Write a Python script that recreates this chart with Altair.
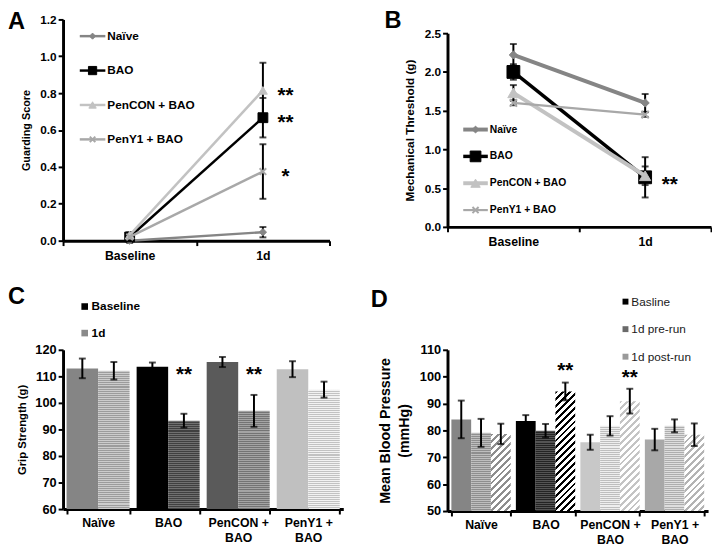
import altair as alt
import pandas as pd

FONT = "Liberation Sans"

# ---------------- data ----------------
groups = ["Naïve", "BAO", "PenCON + BAO", "PenY1 + BAO"]
timepoints = ["Baseline", "1d"]

# Panel A: guarding score (mean, sem) at Baseline, 1d
guard_naive = [0.00, 0.046]
guard_naive_err = [0.012, 0.028]
guard_bao = [0.02, 0.667]
guard_bao_err = [0.015, 0.107]
guard_pencon = [0.03, 0.815]
guard_pencon_err = [0.015, 0.150]
guard_peny1 = [0.02, 0.375]
guard_peny1_err = [0.012, 0.148]
guard_star_y = [0.815, 0.667, 0.375]
guard_star_txt = ["**", "**", "*"]

# Panel B: mechanical threshold
mech_naive = [2.22, 1.60]
mech_naive_err = [0.14, 0.115]
mech_bao = [2.00, 0.64]
mech_bao_err = [0.10, 0.26]
mech_pencon = [1.73, 0.66]
mech_pencon_err = [0.10, 0.12]
mech_peny1 = [1.60, 1.45]
mech_peny1_err = [0.03, 0.03]
mech_star_y = [0.62]
mech_star_txt = ["**"]

# Panel C: grip strength
grip_series = ["Baseline", "1d"]
grip_base = [113.0, 113.6, 115.4, 112.7]
grip_base_err = [3.7, 1.6, 1.9, 3.0]
grip_1d = [112.1, 93.3, 97.0, 105.0]
grip_1d_err = [3.3, 2.6, 6.0, 3.0]
grip_star_groups = ["BAO", "PenCON + BAO"]
grip_star_y = [112.7, 112.7]

# Panel D: mean blood pressure
bp_series = ["Basline", "1d pre-run", "1d post-run"]
bp_base = [84.1, 83.5, 75.6, 76.6]
bp_base_err = [7.0, 2.2, 2.8, 4.0]
bp_pre = [79.1, 79.9, 81.7, 81.7]
bp_pre_err = [5.2, 2.5, 3.6, 2.4]
bp_post = [78.7, 94.5, 90.9, 78.4]
bp_post_err = [3.8, 3.3, 4.6, 4.2]
bp_star_groups = ["BAO", "PenCON + BAO"]
bp_star_y = [104.3, 101.8]

# ---------------- styles ----------------
AX = dict(domainColor="black", domainWidth=3, tickColor="black", tickWidth=2,
          tickSize=5, labelFont=FONT, labelFontWeight="bold", labelColor="black",
          titleFont=FONT, titleFontWeight="bold", titleColor="black", grid=False)

line_names = groups
line_colors = ["#858585", "#000000", "#c2c2c2", "#a8a8a8"]
CROSS = "M-1,-1L1,1M-1,1L1,-1"
line_shapes = ["diamond", "square", "triangle-up", CROSS]


def text_layer(txt, x, y, size, weight="bold", align="left", baseline="middle", color="black"):
    return alt.Chart(pd.DataFrame({"t": [txt]})).mark_text(
        align=align, baseline=baseline, fontSize=size, fontWeight=weight,
        font=FONT, color=color).encode(x=alt.value(x), y=alt.value(y), text="t:N")


def line_panel(letter, means, errs, ydom, yvals, ytitle, ytitle_size, W, H,
               widths, msizes, leg_x, leg_y0, leg_step, leg_font, leg_w,
               star_y, star_txt, star_dx, letter_xy):
    xenc = alt.X("time:N", scale=alt.Scale(type="band", domain=timepoints,
                                           paddingInner=0, paddingOuter=0),
                 bandPosition=0.5,
                 axis=alt.Axis(title=None, labelAngle=0, tickBand="extent",
                               labelFontSize=12.5, labelPadding=4, **AX))
    yaxis = alt.Axis(values=yvals, format=".1f", title=ytitle,
                     titleFontSize=ytitle_size, labelFontSize=12, titlePadding=8, **AX)

    def yenc(f):
        return alt.Y(f + ":Q", scale=alt.Scale(domain=ydom, nice=False, zero=False), axis=yaxis)

    layers = []
    rows = []
    for name, m, e in zip(line_names, means, errs):
        for t, mv, ev in zip(timepoints, m, e):
            rows.append({"name": name, "time": t, "value": mv, "lo": mv - ev, "hi": mv + ev})
    df = pd.DataFrame(rows)
    layers.append(alt.Chart(df).mark_rule(color="black", strokeWidth=2).encode(
        x=xenc, y=yenc("lo"), y2="hi:Q"))
    for f in ["lo", "hi"]:
        layers.append(alt.Chart(df).mark_tick(color="black", size=7, thickness=2).encode(
            x=xenc, y=yenc(f)))
    for i, name in enumerate(line_names):
        d = df[df["name"] == name]
        layers.append(alt.Chart(d).mark_line(color=line_colors[i], strokeWidth=widths[i]).encode(
            x=xenc, y=yenc("value")))
        layers.append(alt.Chart(d).mark_point(
            shape=line_shapes[i], filled=True, fill=line_colors[i], stroke=line_colors[i],
            strokeWidth=2 if i == 3 else 1, size=msizes[i], opacity=1).encode(
            x=xenc, y=yenc("value")))
    sdf = pd.DataFrame({"time": ["1d"] * len(star_y), "value": star_y, "t": star_txt})
    layers.append(alt.Chart(sdf).mark_text(dx=star_dx, dy=6, fontSize=21, fontWeight="bold",
                                           font=FONT, align="center", baseline="middle",
                                           color="black").encode(
        x=xenc, y=yenc("value"), text="t:N"))
    for i, name in enumerate(line_names):
        ly = leg_y0 + i * leg_step
        ld = pd.DataFrame({"name": [name]})
        layers.append(alt.Chart(ld).mark_rule(color=line_colors[i], strokeWidth=widths[i]).encode(
            x=alt.value(leg_x), x2=alt.value(leg_x + leg_w), y=alt.value(ly)))
        layers.append(alt.Chart(ld).mark_point(
            shape=line_shapes[i], filled=True, fill=line_colors[i], stroke=line_colors[i],
            strokeWidth=2 if i == 3 else 1, size=msizes[i] * 0.7, opacity=1).encode(
            x=alt.value(leg_x + leg_w / 2), y=alt.value(ly)))
        layers.append(alt.Chart(ld).mark_text(align="left", baseline="middle", fontSize=leg_font,
                                              fontWeight="bold", font=FONT, color="black").encode(
            x=alt.value(leg_x + leg_w + 2), y=alt.value(ly), text="name:N"))
    layers.append(text_layer(letter, letter_xy[0], letter_xy[1], 24, baseline="alphabetic"))
    return alt.layer(*layers).properties(width=W, height=H)


def hatch(W, H, color, period=7.0, duty=0.42):
    a, b = 1.0 / H, 1.0 / W
    k = (a + b) / (a * a + b * b)
    total = W + H
    stops = []
    pos = 0.0
    while pos < total - 1e-6:
        o1 = pos / total
        o2 = min((pos + period * duty) / total, 1.0)
        o3 = min((pos + period) / total, 1.0)
        stops += [{"offset": o1, "color": color}, {"offset": o2, "color": color},
                  {"offset": o2, "color": "#ffffff"}, {"offset": o3, "color": "#ffffff"}]
        pos += period
    return {"gradient": "linear", "x1": 0, "y1": 0, "x2": a * k, "y2": b * k, "stops": stops}


def shade(hexcol, d):
    v = int(hexcol[1:3], 16)
    v = max(0, min(255, v + d))
    return "#%02x%02x%02x" % (v, v, v)


def dots(H, avg, period=2.0, amp=24):
    dark, light = shade(avg, -amp), shade(avg, amp)
    stops = []
    pos = 0.0
    while pos < H - 1e-6:
        o1 = pos / H
        o2 = min((pos + period / 2) / H, 1.0)
        o3 = min((pos + period) / H, 1.0)
        stops += [{"offset": o1, "color": light}, {"offset": o2, "color": light},
                  {"offset": o2, "color": dark}, {"offset": o3, "color": dark}]
        pos += period
    return {"gradient": "linear", "x1": 0, "y1": 0, "x2": 0, "y2": 1, "stops": stops}


LABEL_EXPR = ("indexof(datum.label,'+')>0 ? [slice(datum.label,0,indexof(datum.label,'+')+1),"
              " slice(datum.label,indexof(datum.label,'+')+2)] : datum.label")


def bar_panel(df, series, styles, W, H, pi, po, ydom, yaxis):
    """styles: series -> (kind, [colour per group]) ; kind in solid / dots / hatch"""
    xs = alt.Scale(type="band", domain=groups, paddingInner=pi, paddingOuter=po)
    xax = alt.Axis(title=None, labelAngle=0, tickBand="extent", labelExpr=LABEL_EXPR,
                   labelFontSize=12.5, labelLineHeight=15, labelPadding=3, **AX)
    xb = alt.X("group:N", scale=xs, axis=xax)
    xc = alt.X("group:N", scale=xs, axis=xax, bandPosition=0.5)

    def ye(f):
        return alt.Y(f + ":Q", scale=alt.Scale(domain=ydom, nice=False, zero=False), axis=yaxis)

    step = W / (len(groups) - pi + 2 * po)
    bw = step * (1 - pi) / len(series)
    offs = {s: (j - (len(series) - 1) / 2) * bw for j, s in enumerate(series)}
    layers = []
    for s in series:
        kind, cols = styles[s]
        for i, g in enumerate(groups):
            gsub = df[(df["series"] == s) & (df["group"] == g)]
            h = (float(gsub["value"].iloc[0]) - ydom[0]) / (ydom[1] - ydom[0]) * H
            if kind == "hatch":
                fill = hatch(bw, h, cols[i])
            elif kind == "dots":
                fill = dots(h, cols[i])
            else:
                fill = cols[i]
            layers.append(alt.Chart(gsub).mark_bar(width=bw, xOffset=offs[s], fill=fill).encode(
                x=xb, y=ye("value"), y2=alt.datum(ydom[0])))
    for s in series:
        sub = df[df["series"] == s]
        layers.append(alt.Chart(sub).mark_rule(color="black", strokeWidth=2, xOffset=offs[s]).encode(
            x=xc, y=ye("lo"), y2="hi:Q"))
        for f in ["lo", "hi"]:
            layers.append(alt.Chart(sub).mark_tick(color="black", size=7, thickness=2,
                                                   xOffset=offs[s]).encode(x=xc, y=ye(f)))
    return layers, xc, ye, offs


def long_table(series, vals, errs):
    rows = []
    for s, v, e in zip(series, vals, errs):
        for i, g in enumerate(groups):
            rows.append({"group": g, "series": s, "value": v[i], "lo": v[i] - e[i], "hi": v[i] + e[i]})
    return pd.DataFrame(rows)


# ---------------- Panel A ----------------
panel_a = line_panel(
    "A",
    [guard_naive, guard_bao, guard_pencon, guard_peny1],
    [guard_naive_err, guard_bao_err, guard_pencon_err, guard_peny1_err],
    [0, 1.2], [0, 0.2, 0.4, 0.6, 0.8, 1.0, 1.2], "Guarding Score", 11, 271, 225,
    widths=[2.5, 2.5, 2.5, 2.5], msizes=[55, 100, 80, 45],
    leg_x=17, leg_y0=17, leg_step=35, leg_font=12, leg_w=26,
    star_y=guard_star_y, star_txt=guard_star_txt, star_dx=23, letter_xy=(-56, 10))

# ---------------- Panel B ----------------
panel_b = line_panel(
    "B",
    [mech_naive, mech_bao, mech_pencon, mech_peny1],
    [mech_naive_err, mech_bao_err, mech_pencon_err, mech_peny1_err],
    [0, 2.5], [0, 0.5, 1.0, 1.5, 2.0, 2.5], "Mechanical Threshold (g)", 12, 268, 197,
    widths=[4, 3.5, 4, 2.2], msizes=[70, 170, 130, 55],
    leg_x=16, leg_y0=98, leg_step=27.3, leg_font=10.5, leg_w=25,
    star_y=mech_star_y, star_txt=mech_star_txt, star_dx=25, letter_xy=(-64, -5))

# ---------------- Panel C ----------------
CW, CH = 285, 162
cdf = long_table(grip_series, [grip_base, grip_1d], [grip_base_err, grip_1d_err])
c_styles = {"Baseline": ("solid", ["#858585", "#000000", "#5a5a5a", "#c0c0c0"]),
            "1d": ("dots", ["#b4b4b4", "#585858", "#8c8c8c", "#dadada"])}
c_yaxis = alt.Axis(values=list(range(60, 121, 10)), title="Grip Strength (g)", titleFontSize=11.5,
                   labelFontSize=13, titlePadding=7, **AX)
c_layers, cxc, cye, c_offs = bar_panel(cdf, grip_series, c_styles, CW, CH, 0.1, 0.05,
                                       [60, 120], c_yaxis)
c_layers += [
    alt.Chart(pd.DataFrame({"group": grip_star_groups, "value": grip_star_y, "t": ["**", "**"]})).mark_text(
        dy=6, xOffset=c_offs["1d"], fontSize=21, fontWeight="bold", font=FONT, align="center",
        baseline="middle", color="black").encode(x=cxc, y=cye("value"), text="t:N"),
    alt.Chart(pd.DataFrame({"t": ["Baseline"]})).mark_square(size=45, color="#000000", opacity=1).encode(
        x=alt.value(22), y=alt.value(-44)),
    text_layer("Baseline", 29, -44, 12),
    alt.Chart(pd.DataFrame({"t": ["1d"]})).mark_square(size=45, color="#8a8a8a", opacity=1).encode(
        x=alt.value(22), y=alt.value(-17)),
    text_layer("1d", 29, -17, 12),
    text_layer("C", -56, -47, 24, baseline="alphabetic"),
]
panel_c = alt.layer(*c_layers).properties(width=CW, height=CH)

# ---------------- Panel D ----------------
DW, DH = 265, 164
ddf = long_table(bp_series, [bp_base, bp_pre, bp_post], [bp_base_err, bp_pre_err, bp_post_err])
d_styles = {bp_series[0]: ("solid", ["#858585", "#000000", "#c8c8c8", "#a8a8a8"]),
            bp_series[1]: ("dots", ["#a6a6a6", "#3c3c3c", "#d6d6d6", "#c6c6c6"]),
            bp_series[2]: ("hatch", ["#8e8e8e", "#000000", "#c4c4c4", "#b4b4b4"])}
d_yaxis = alt.Axis(values=list(range(50, 111, 10)), title=["Mean Blood Pressure", "(mmHg)"],
                   titleFontSize=14.5, titleLineHeight=19, labelFontSize=13, titlePadding=8, **AX)
d_layers, dxc, dye, d_offs = bar_panel(ddf, bp_series, d_styles, DW, DH, 0.08, 0.06,
                                       [50, 110], d_yaxis)
d_layers.append(
    alt.Chart(pd.DataFrame({"group": bp_star_groups, "value": bp_star_y, "t": ["**", "**"]})).mark_text(
        dy=6, xOffset=d_offs[bp_series[2]], fontSize=21, fontWeight="bold", font=FONT, align="center",
        baseline="middle", color="black").encode(x=dxc, y=dye("value"), text="t:N"))
for j, (nm, col) in enumerate(zip(bp_series, ["#000000", "#6a6a6a", "#9a9a9a"])):
    ly = -49 + 28 * j
    d_layers.append(alt.Chart(pd.DataFrame({"t": [nm]})).mark_square(size=36, color=col, opacity=1).encode(
        x=alt.value(181), y=alt.value(ly)))
    d_layers.append(text_layer(nm, 187, ly, 12, weight="normal", color="#1a1a1a"))
d_layers.append(text_layer("D", -78, -44, 24, baseline="alphabetic"))
panel_d = alt.layer(*d_layers).properties(width=DW, height=DH)

chart = alt.concat(
    panel_a, panel_b, panel_c, panel_d, columns=2, bounds="flush", center=True,
    spacing={"row": 111, "column": 106}, align={"row": "all", "column": "none"}
).properties(
    padding={"left": 0, "top": -3, "right": 0, "bottom": 0}
).configure_view(strokeWidth=0)

chart.save("out.html", embed_options={"renderer": "svg", "actions": False})
